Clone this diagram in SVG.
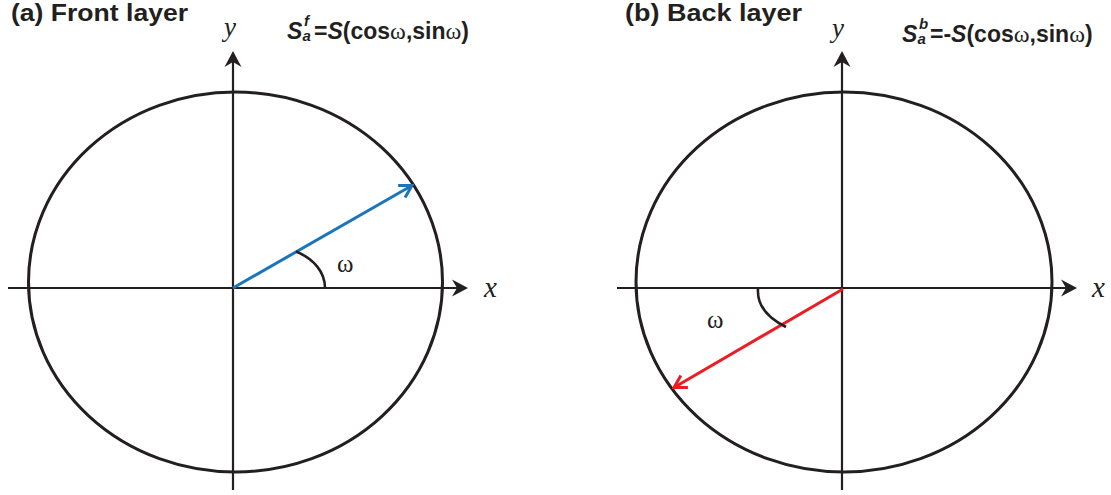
<svg xmlns="http://www.w3.org/2000/svg" width="1111" height="495" viewBox="0 0 1111 495">
<style>
.ax{stroke:#231f20;stroke-width:2.2;fill:none}
.el{stroke:#231f20;stroke-width:3;fill:none}
.arc{stroke:#231f20;stroke-width:2.6;fill:none}
.title{font-family:"Liberation Sans",Arial,sans-serif;font-weight:bold;font-size:24px;fill:#231f20}
.var{font-family:"Liberation Serif","Times New Roman",serif;font-style:italic;fill:#231f20}
.om{font-family:"Liberation Serif","Times New Roman",serif;font-size:25px;fill:#231f20}
.fm{font-family:"Liberation Sans",Arial,sans-serif;font-weight:bold;font-size:23px;fill:#231f20}
.it{font-style:italic}
.sm{font-size:15px}
.omf{font-family:"Liberation Serif","Times New Roman",serif;font-weight:normal;font-size:24px}
</style>
<defs>
<marker id="ah" markerUnits="userSpaceOnUse" viewBox="-17 -9 18 18" refX="-6" refY="0" markerWidth="18" markerHeight="18" orient="auto">
<path d="M0,0 L-16,-8.5 L-11,0 L-16,8.5 Z" fill="#231f20"/>
</marker>
<marker id="vb" markerUnits="userSpaceOnUse" viewBox="-16 -10 18 20" refX="0" refY="0" markerWidth="18" markerHeight="20" orient="auto">
<path d="M-12,-7 L0,0 L-12,7" fill="none" stroke="#1b75bc" stroke-width="3"/>
</marker>
<marker id="vr" markerUnits="userSpaceOnUse" viewBox="-16 -10 18 20" refX="0" refY="0" markerWidth="18" markerHeight="20" orient="auto">
<path d="M-12,-7 L0,0 L-12,7" fill="none" stroke="#ed1c24" stroke-width="3"/>
</marker>
</defs>

<g id="panel-a">
<text class="title" x="11" y="20.5" textLength="177" lengthAdjust="spacingAndGlyphs">(a) Front layer</text>
<ellipse id="circle-a" class="el" cx="235.5" cy="282" rx="207" ry="190"/>
<g id="axes-a">
<line class="ax" x1="8" y1="288" x2="462" y2="288" marker-end="url(#ah)"/>
<line class="ax" x1="233" y1="490" x2="233" y2="57" marker-end="url(#ah)"/>
</g>
<text class="var" x="224" y="36" font-size="27">y</text>
<text class="var" x="484" y="297" font-size="29">x</text>
<g id="vector-a">
<line x1="233" y1="288" x2="412" y2="185.5" stroke="#1b75bc" stroke-width="3" marker-end="url(#vb)"/>
<path class="arc" d="M296,251.5 C314,259 325,272 325,288"/>
<text class="om" x="337" y="272">ω</text>
</g>
<text class="fm" y="39"><tspan class="it" x="287">S</tspan><tspan class="it sm" x="304" y="26">f</tspan><tspan class="it sm" x="302.5" y="41">a</tspan><tspan x="314" y="39">=</tspan><tspan class="it">S</tspan><tspan>(cos</tspan><tspan class="omf">ω</tspan><tspan>,sin</tspan><tspan class="omf">ω</tspan><tspan>)</tspan></text>
</g>

<g id="panel-b">
<text class="title" x="625" y="21" textLength="177" lengthAdjust="spacingAndGlyphs">(b) Back layer</text>
<ellipse id="circle-b" class="el" cx="844" cy="282" rx="208" ry="190"/>
<g id="axes-b">
<line class="ax" x1="617" y1="288" x2="1071" y2="288" marker-end="url(#ah)"/>
<line class="ax" x1="842" y1="490" x2="842" y2="57" marker-end="url(#ah)"/>
</g>
<text class="var" x="832" y="37" font-size="27">y</text>
<text class="var" x="1092" y="297" font-size="29">x</text>
<g id="vector-b">
<line x1="843" y1="289" x2="674" y2="387.5" stroke="#ed1c24" stroke-width="3" marker-end="url(#vr)"/>
<path class="arc" d="M758,289 C757,305 768,318 786,327"/>
<text class="om" x="707" y="328">ω</text>
</g>
<text class="fm" y="42"><tspan class="it" x="902">S</tspan><tspan class="it sm" x="919" y="29">b</tspan><tspan class="it sm" x="917.5" y="44">a</tspan><tspan x="930" y="42">=-</tspan><tspan class="it">S</tspan><tspan>(cos</tspan><tspan class="omf">ω</tspan><tspan>,sin</tspan><tspan class="omf">ω</tspan><tspan>)</tspan></text>
</g>
</svg>
